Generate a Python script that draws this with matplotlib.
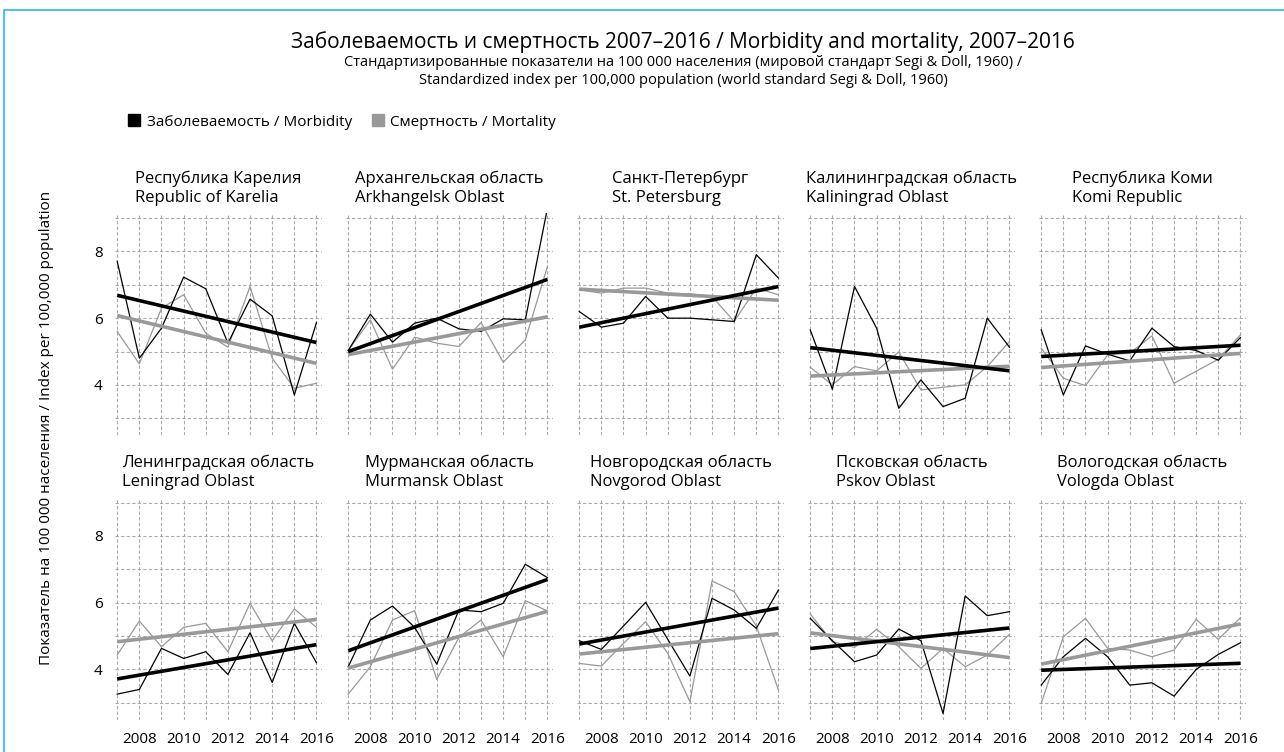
import numpy as np
import matplotlib.pyplot as plt
from matplotlib.lines import Line2D
from matplotlib.patches import Rectangle

plt.rcParams['font.family'] = ['Open Sans', 'DejaVu Sans']

years = np.arange(2007, 2017)

region_ru = ["Республика Карелия", "Архангельская область", "Санкт-Петербург",
             "Калининградская область", "Республика Коми",
             "Ленинградская область", "Мурманская область", "Новгородская область",
             "Псковская область", "Вологодская область"]
region_en = ["Republic of Karelia", "Arkhangelsk Oblast", "St. Petersburg",
             "Kaliningrad Oblast", "Komi Republic",
             "Leningrad Oblast", "Murmansk Oblast", "Novgorod Oblast",
             "Pskov Oblast", "Vologda Oblast"]

# morbidity (black) per region, 2007..2016
morb_karelia = [7.7, 4.8, 5.7, 7.23, 6.88, 5.25, 6.57, 6.07, 3.7, 5.87]
morb_arkhangelsk = [5.03, 6.12, 5.28, 5.85, 6.0, 5.68, 5.6, 5.98, 5.95, 9.3]
morb_spb = [6.2, 5.73, 5.85, 6.65, 6.0, 6.0, 5.95, 5.9, 7.9, 7.2]
morb_kaliningrad = [5.65, 3.87, 6.95, 5.7, 3.3, 4.15, 3.35, 3.6, 6.0, 5.13]
morb_komi = [5.65, 3.7, 5.17, 4.92, 4.72, 5.7, 5.15, 5.03, 4.74, 5.42]
morb_leningrad = [3.26, 3.4, 4.63, 4.33, 4.53, 3.85, 5.1, 3.61, 5.38, 4.2]
morb_murmansk = [4.08, 5.48, 5.9, 5.26, 4.16, 5.78, 5.73, 5.98, 7.15, 6.75]
morb_novgorod = [4.86, 4.6, 5.3, 6.01, 4.9, 3.8, 6.13, 5.78, 5.23, 6.38]
morb_pskov = [5.53, 4.86, 4.23, 4.43, 5.21, 4.86, 2.68, 6.2, 5.61, 5.73]
morb_vologda = [3.53, 4.38, 4.93, 4.38, 3.53, 3.6, 3.2, 4.0, 4.45, 4.8]

# mortality (grey) per region, 2007..2016
mort_karelia = [5.6, 4.63, 6.3, 6.7, 5.55, 5.13, 6.95, 4.8, 3.9, 4.05]
mort_arkhangelsk = [5.03, 5.95, 4.47, 5.43, 5.25, 5.15, 5.87, 4.68, 5.35, 7.55]
mort_spb = [6.85, 6.75, 6.9, 6.9, 6.75, 6.73, 6.65, 5.9, 6.9, 6.7]
mort_kaliningrad = [4.53, 4.0, 4.55, 4.42, 4.99, 3.85, 3.93, 4.0, 4.55, 5.3]
mort_komi = [5.1, 4.2, 3.98, 4.9, 4.95, 5.47, 4.05, 4.41, 4.77, 5.5]
mort_leningrad = [4.43, 5.45, 4.68, 5.26, 5.38, 4.53, 5.98, 4.86, 5.81, 5.26]
mort_murmansk = [3.26, 4.08, 5.48, 5.76, 3.7, 4.96, 5.48, 4.38, 6.06, 5.75]
mort_novgorod = [4.18, 4.1, 4.78, 5.43, 4.48, 3.03, 6.65, 6.33, 5.3, 3.38]
mort_pskov = [5.66, 4.83, 4.66, 5.2, 4.68, 4.03, 4.63, 4.08, 4.43, 5.05]
mort_vologda = [2.98, 4.98, 5.53, 4.63, 4.58, 4.38, 4.58, 5.5, 4.9, 5.55]

morbidity = [morb_karelia, morb_arkhangelsk, morb_spb, morb_kaliningrad, morb_komi,
             morb_leningrad, morb_murmansk, morb_novgorod, morb_pskov, morb_vologda]
mortality = [mort_karelia, mort_arkhangelsk, mort_spb, mort_kaliningrad, mort_komi,
             mort_leningrad, mort_murmansk, mort_novgorod, mort_pskov, mort_vologda]

BLACK = "#000000"
GREY = "#999999"

W, H = 1284, 752
fig = plt.figure(figsize=(W / 100, H / 100), dpi=100)

# light blue frame
fig.patches.append(Rectangle((4 / W, -0.1), 1.2, 1 - 10 / H + 0.1, transform=fig.transFigure,
                             fill=False, edgecolor="#29b6f6", linewidth=1.2))

fig.text(0.532, 1 - 42 / H, "Заболеваемость и смертность 2007–2016 / Morbidity and mortality, 2007–2016",
         ha="center", va="center", fontsize=15)
fig.text(0.532, 1 - 62 / H, "Стандартизированные показатели на 100 000 населения (мировой стандарт Segi & Doll, 1960) /",
         ha="center", va="center", fontsize=10.5)
fig.text(0.532, 1 - 81 / H, "Standardized index per 100,000 population (world standard Segi & Doll, 1960)",
         ha="center", va="center", fontsize=10.5)

handles = [Line2D([], [], marker="s", color=BLACK, linestyle="none", markersize=9),
           Line2D([], [], marker="s", color=GREY, linestyle="none", markersize=9)]
fig.legend(handles, ["Заболеваемость / Morbidity", "Смертность / Mortality"],
           loc="center left", bbox_to_anchor=(113 / W, 1 - 122 / H), ncol=2, frameon=False,
           fontsize=11, handletextpad=0.3, columnspacing=1.2, handlelength=1.0)

fig.text(47 / W, 1 - 428 / H, "Показатель на 100 000 населения / Index per 100,000 population",
         rotation=90, ha="center", va="center", fontsize=11)

col_left = [115 + 231 * i for i in range(5)]
row_top = [213, 497.5]
ax_w, ax_h = 207, 222

for k in range(10):
    r, c = divmod(k, 5)
    ax = fig.add_axes([col_left[c] / W, 1 - (row_top[r] + ax_h) / H, ax_w / W, ax_h / H])
    morb = np.array(morbidity[k])
    mort = np.array(mortality[k])

    ax.plot(years, mort, color=GREY, linewidth=0.9)
    ax.plot(years, morb, color=BLACK, linewidth=0.9)

    # linear trends
    pm = np.polyfit(years, mort, 1)
    pb = np.polyfit(years, morb, 1)
    ax.plot(years, np.polyval(pm, years), color=GREY, linewidth=2.6, solid_capstyle="butt")
    ax.plot(years, np.polyval(pb, years), color=BLACK, linewidth=2.6, solid_capstyle="butt")

    ax.set_xlim(2006.9, 2016.25)
    ax.set_ylim(2.5, 9.15)
    ax.set_xticks(range(2008, 2017, 2))
    ax.set_xticks(range(2007, 2017, 2), minor=True)
    ax.set_yticks([4, 6, 8])
    ax.set_yticks([3, 5, 7, 9], minor=True)
    ax.grid(which="both", color="#aaaaaa", linestyle=(0, (3, 2)), linewidth=0.8)
    ax.set_axisbelow(True)
    ax.tick_params(which="both", length=0, labelsize=11)
    ax.tick_params(axis="x", pad=9)
    ax.tick_params(axis="y", pad=9)
    for s in ax.spines.values():
        s.set_visible(False)
    if r == 0:
        ax.set_xticklabels([])
    if c > 0:
        ax.set_yticklabels([])

    ax.set_title(region_ru[k] + "\n" + region_en[k], fontsize=12, ha="center",
                 multialignment="left", pad=8, linespacing=1.25)

fig.savefig("out.png", dpi=100)
